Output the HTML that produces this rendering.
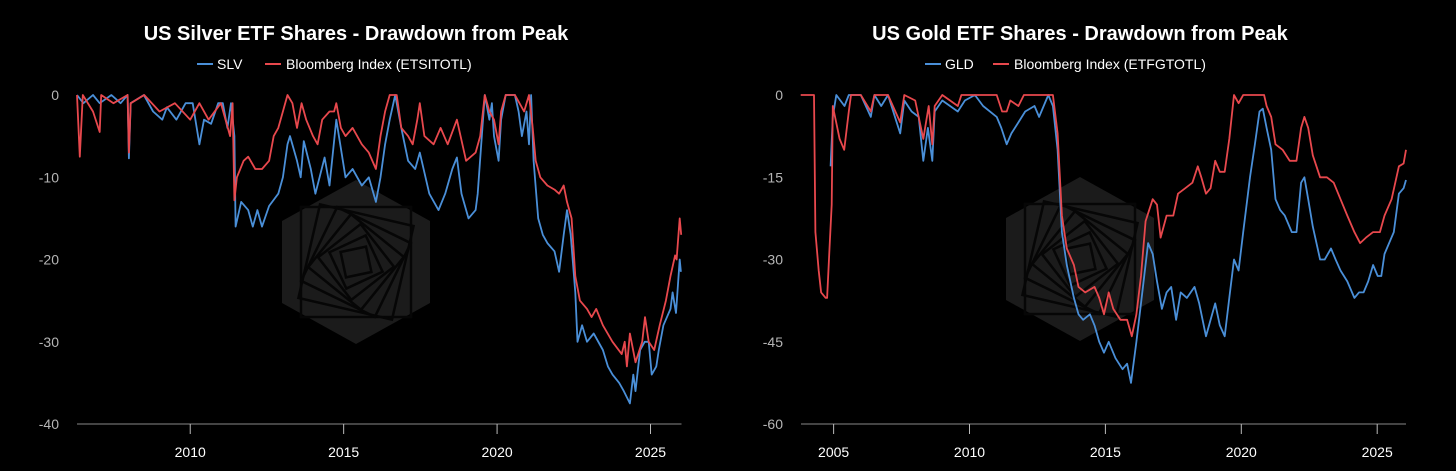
<!DOCTYPE html>
<html><head><meta charset="utf-8">
<style>
html,body{margin:0;padding:0;background:#000;}
body{width:1456px;height:466px;overflow:hidden;font-family:"Liberation Sans",sans-serif;}
svg text{font-family:"Liberation Sans",sans-serif;}
</style></head>
<body>
<svg id="chart" width="1456" height="466" viewBox="0 0 1456 466" xmlns="http://www.w3.org/2000/svg">
<rect width="1456" height="466" fill="#000"/>
<g id="left"></g>
<g id="right"></g>
</svg>
<script>
// ---- Silver panel data ----
const slvYears=[2006.31,2006.52,2006.83,2007.05,2007.43,2007.73,2007.96,2008.0,2008.06,2008.49,2008.79,2009.09,2009.24,2009.55,2009.85,2010.08,2010.3,2010.45,2010.68,2010.91,2011.06,2011.21,2011.33,2011.44,2011.48,2011.66,2011.89,2012.04,2012.19,2012.34,2012.57,2012.87,2013.02,2013.17,2013.25,2013.48,2013.6,2013.7,2013.93,2014.08,2014.38,2014.54,2014.76,2015.06,2015.29,2015.59,2015.82,2016.05,2016.2,2016.35,2016.5,2016.62,2016.68,2016.88,2017.1,2017.33,2017.48,2017.79,2018.09,2018.31,2018.54,2018.69,2018.84,2019.07,2019.3,2019.37,2019.52,2019.6,2019.75,2019.83,2019.9,2020.05,2020.13,2020.28,2020.58,2020.7,2020.81,2020.96,2021.04,2021.11,2021.19,2021.34,2021.49,2021.64,2021.87,2022.02,2022.17,2022.28,2022.4,2022.55,2022.62,2022.77,2022.93,2023.15,2023.45,2023.61,2023.76,2023.98,2024.13,2024.33,2024.44,2024.51,2024.66,2024.81,2024.94,2025.04,2025.19,2025.27,2025.42,2025.65,2025.72,2025.83,2025.95,2025.99];
const slvValues=[0,-1,0,-1,0,-1,0,-7.7,-1,0,-2,-3,-1.5,-3,-1,-1,-6,-3,-3.5,-1,-1,-4,-1,-5,-16,-13,-14,-16,-14,-16,-13.5,-12,-10,-6,-5,-8,-10,-5.6,-9,-12,-7.6,-11,-3,-10,-9,-11,-10,-13,-10,-6,-3,-1,0,-4,-8,-9,-7,-12,-14,-12,-9,-7.6,-12,-15,-14,-12,-4,0,-3,-1,-5,-8,-3,0,0,-2,-5,-2,-6,0,-8,-15,-17,-18,-19,-21.5,-17,-14,-17,-24,-30,-28,-30,-29,-31,-33,-34,-35,-36,-37.5,-34,-36,-31,-30,-30,-34,-33,-31,-28,-26,-24,-26.5,-20,-21.5];
const etsiYears=[2006.31,2006.4,2006.5,2006.83,2007.05,2007.1,2007.5,2007.96,2008.0,2008.06,2008.5,2009.0,2009.5,2010.0,2010.3,2010.6,2011.0,2011.3,2011.38,2011.44,2011.52,2011.74,2011.89,2012.12,2012.34,2012.57,2012.72,2012.87,2013.02,2013.17,2013.33,2013.48,2013.63,2013.78,2014.0,2014.15,2014.3,2014.54,2014.69,2014.76,2014.91,2015.06,2015.29,2015.59,2015.82,2016.05,2016.2,2016.35,2016.5,2016.73,2016.88,2017.1,2017.25,2017.4,2017.48,2017.63,2017.93,2018.16,2018.39,2018.69,2018.99,2019.3,2019.45,2019.6,2019.75,2019.9,2020.05,2020.13,2020.28,2020.58,2020.73,2020.88,2021.04,2021.16,2021.26,2021.41,2021.64,2021.87,2022.02,2022.17,2022.28,2022.43,2022.55,2022.7,2022.93,2023.08,2023.23,2023.45,2023.76,2024.06,2024.16,2024.23,2024.33,2024.51,2024.73,2024.82,2024.94,2025.12,2025.3,2025.5,2025.65,2025.8,2025.85,2025.95,2026.0];
const etsiValues=[0,-7.5,0,-2,-4.5,0,-1,0,-7,-1,0,-2,-1,-3,-1,-3,-1,-5,-1,-12.8,-10,-8,-7.5,-9,-9,-8,-5,-4,-2,0,-1,-4,-1,-3,-5,-6,-3,-2,-2,-1,-4,-5,-4,-6,-7,-9,-5,-2,0,0,-4,-5,-6,-3,-1,-5,-6,-4,-6,-3,-8,-7,-5,0,-2,-3,-6,-2,0,0,-1,-2,0,-4,-8,-10,-11,-11.5,-12,-11,-13,-15,-22,-25,-26,-27,-26,-28,-30,-31.5,-30,-33,-29,-32.5,-30,-27,-30,-31,-28,-25,-22,-19.5,-20,-15,-17];
const leftYTicks=[0,-10,-20,-30,-40];
const leftXTicks=[2010,2015,2020,2025];

// ---- Gold panel data ----
const gldYears=[2004.89,2004.97,2005.1,2005.4,2005.56,2006.0,2006.37,2006.5,2006.75,2007.0,2007.45,2007.6,2007.87,2008.13,2008.3,2008.47,2008.63,2008.72,2009.0,2009.57,2009.83,2010.2,2010.5,2011.0,2011.17,2011.37,2011.54,2011.8,2012.05,2012.39,2012.56,2012.9,2013.07,2013.24,2013.4,2013.58,2013.84,2014.01,2014.18,2014.43,2014.6,2014.77,2014.95,2015.12,2015.37,2015.63,2015.8,2015.94,2016.14,2016.31,2016.57,2016.74,2016.9,2017.08,2017.25,2017.42,2017.6,2017.77,2018.0,2018.28,2018.45,2018.7,2018.87,2019.04,2019.21,2019.39,2019.56,2019.73,2019.9,2020.07,2020.32,2020.5,2020.67,2020.79,2020.93,2021.1,2021.26,2021.43,2021.6,2021.86,2022.03,2022.2,2022.32,2022.46,2022.63,2022.9,2023.07,2023.3,2023.47,2023.65,2023.9,2024.16,2024.33,2024.5,2024.67,2024.85,2025.02,2025.15,2025.27,2025.44,2025.61,2025.8,2025.97,2026.06];
const gldValues=[-13,-4,0,-2,0,0,-4,0,-2,0,-7,-1,-3,-4,-12,-6,-12,-3,-1,-3,-1,0,-2,-4,-6,-9,-7,-5,-3,-2,-4,0,-2,-10,-25,-31,-37,-40,-41,-40,-42,-45,-47,-45,-48,-50,-49,-52.5,-45,-38,-27,-29,-34,-39,-36,-35,-41,-36,-37,-35,-38,-44,-41,-38,-42,-44,-37,-30,-32,-25,-15,-9,-3,-2.5,-6,-10,-19,-21,-22,-25,-25,-16,-15,-19,-24,-30,-30,-28,-30,-32,-34,-37,-36,-36,-34,-31,-33,-33,-29,-27,-25,-18,-17,-15.5];
const etfgYears=[2003.79,2004.28,2004.33,2004.45,2004.54,2004.71,2004.76,2004.85,2004.93,2004.97,2005.22,2005.39,2005.56,2005.64,2006.0,2006.37,2006.5,2007.0,2007.45,2007.6,2008.0,2008.3,2008.5,2008.63,2008.72,2009.0,2009.57,2009.7,2011.0,2011.2,2011.37,2011.5,2011.8,2012.0,2013.07,2013.24,2013.4,2013.58,2013.84,2014.01,2014.26,2014.6,2014.77,2014.95,2015.12,2015.29,2015.55,2015.8,2015.97,2016.14,2016.31,2016.48,2016.74,2016.9,2017.03,2017.25,2017.5,2017.67,2017.94,2018.2,2018.4,2018.53,2018.7,2018.87,2019.04,2019.21,2019.39,2019.56,2019.73,2019.9,2020.07,2020.84,2020.93,2021.1,2021.26,2021.52,2021.78,2022.03,2022.2,2022.32,2022.46,2022.63,2022.9,2023.15,2023.4,2023.65,2023.9,2024.16,2024.37,2024.59,2024.85,2025.1,2025.27,2025.53,2025.8,2025.97,2026.06];
const etfgValues=[0,0,-25,-32,-36,-37,-37,-28,-20,-2,-8,-10,-3,0,0,-3,0,0,-5,0,-1,-8,-2,-9,-2,0,-2,0,0,-3,-3,-1,-2,0,0,-7,-22,-28,-31,-35,-36,-35,-37,-40,-36,-39,-41,-41,-44,-40,-33,-23,-19,-20,-26,-22,-22,-18,-17,-16,-13,-15,-18,-17,-12,-14,-14,-8,0,-1.5,0,0,-2,-4,-9,-10,-12,-12,-6,-4,-6,-11,-15,-15,-16,-19,-22,-25,-27,-26,-25,-25,-22,-19,-13,-12.5,-10];
const rightYTicks=[0,-15,-30,-45,-60];
const rightXTicks=[2005,2010,2015,2020,2025];

const NS='http://www.w3.org/2000/svg';
function mk(parent,tag,attrs){const e=document.createElementNS(NS,tag);for(const k in attrs)e.setAttribute(k,attrs[k]);parent.appendChild(e);return e;}

function panel(g,cfg){
  const x=v=>cfg.x0+(v-cfg.xa)/(cfg.xb-cfg.xa)*(cfg.x1-cfg.x0);
  const y=v=>cfg.yTop+(0-v)/(0-cfg.yMin)*(cfg.yBot-cfg.yTop);
  const t=mk(g,'text',{x:cfg.cx,y:40,'text-anchor':'middle',fill:'#fff','font-size':20,'font-weight':'bold'});
  t.textContent=cfg.title;
  
  
  const lg=mk(g,'g',{});
  
  
  const lx=cfg.legX;
  mk(lg,'line',{x1:lx,y1:64,x2:lx+16,y2:64,stroke:'#4a8fd8','stroke-width':2});
  const l1=mk(lg,'text',{x:lx+20,y:69,fill:'#fff','font-size':14});l1.textContent=cfg.s1;
  const l2x=lx+20+cfg.s1w+20;
  mk(lg,'line',{x1:l2x,y1:64,x2:l2x+16,y2:64,stroke:'#e8484d','stroke-width':2});
  const l2=mk(lg,'text',{x:l2x+21,y:69,fill:'#fff','font-size':14});l2.textContent=cfg.s2;
  const wm=mk(g,'g',{transform:`translate(${cfg.wx},${cfg.wy})`});
  
  
  const hx=74,hy=82;
  mk(wm,'polygon',{points:`0,${-hy} ${hx},${-hy/2} ${hx},${hy/2} 0,${hy} ${-hx},${hy/2} ${-hx},${-hy/2}`,fill:'#1b1b1b'});
  for(let i=0;i<7;i++){const s=110-i*14;mk(wm,'rect',{x:-s/2,y:-s/2,width:s,height:s,fill:'none',stroke:'#060606','stroke-width':2.5,transform:`rotate(${i*13})`});}
  cfg.yTicks.forEach(v=>{const tt=mk(g,'text',{x:cfg.yLabX,y:y(v)+5,'text-anchor':'end',fill:'#b5b5b5','font-size':14});tt.textContent=v;
    
    });
  const ax=mk(g,'line',{x1:cfg.x0,y1:cfg.yBot,x2:cfg.x1,y2:cfg.yBot,stroke:'#888','stroke-width':1});
  
  
  cfg.xTicks.forEach(v=>{mk(g,'line',{x1:x(v),y1:cfg.yBot,x2:x(v),y2:cfg.yBot+10,stroke:'#bbb','stroke-width':1});
    const tt=mk(g,'text',{x:x(v),y:457,'text-anchor':'middle',fill:'#fff','font-size':14});tt.textContent=v;
    
    });
  const line=(xs,vs,col,name)=>{let d='';xs.forEach((v,i)=>{d+=(i?'L':'M')+x(v).toFixed(1)+','+y(vs[i]).toFixed(1);});
    const p=mk(g,'path',{d:d,fill:'none',stroke:col,'stroke-width':1.8,'stroke-linejoin':'round'});
    
    };
  line(cfg.bx,cfg.bv,'#4a8fd8',cfg.bName);
  line(cfg.rx,cfg.rv,'#e8484d',cfg.rName);
}

panel(document.getElementById('left'),{title:'US Silver ETF Shares - Drawdown from Peak',cx:356,legX:197,s1:'SLV',s1w:28,s2:'Bloomberg Index (ETSITOTL)',
  x0:77,x1:681.5,xa:2006.31,xb:2026.01,yTop:95,yBot:424,yMin:-40,yLabX:59,yTicks:leftYTicks,xTicks:leftXTicks,wx:356,wy:262,
  bx:slvYears,bv:slvValues,rx:etsiYears,rv:etsiValues,bName:'slv-line',rName:'etsitotl-line'});
panel(document.getElementById('right'),{title:'US Gold ETF Shares - Drawdown from Peak',cx:1080,legX:925,s1:'GLD',s1w:28,s2:'Bloomberg Index (ETFGTOTL)',
  x0:801,x1:1406,xa:2003.8,xb:2026.06,yTop:95,yBot:424,yMin:-60,yLabX:783,yTicks:rightYTicks,xTicks:rightXTicks,wx:1080,wy:259,
  bx:gldYears,bv:gldValues,rx:etfgYears,rv:etfgValues,bName:'gld-line',rName:'etfgtotl-line'});
</script>
</body></html>
